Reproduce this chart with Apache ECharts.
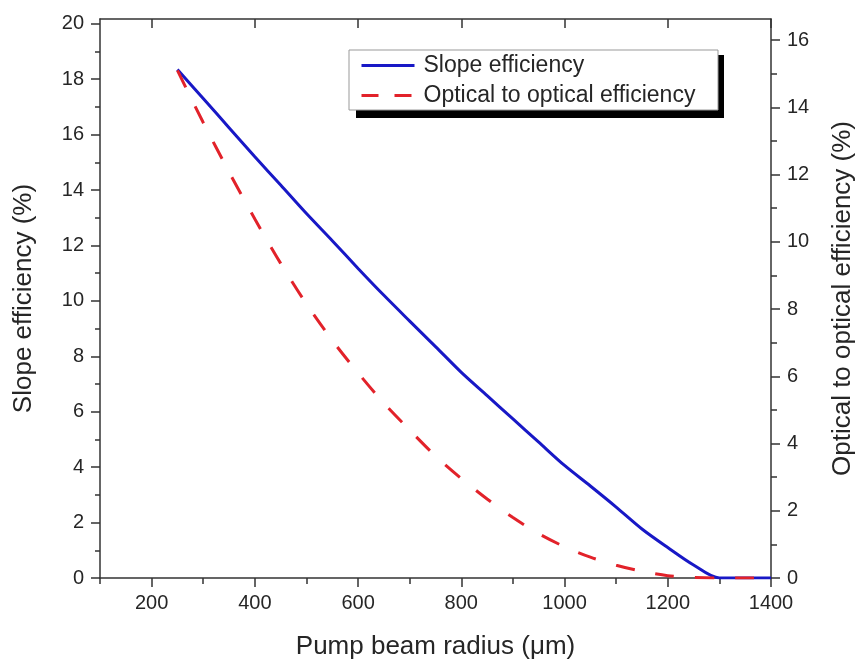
<!DOCTYPE html>
<html><head><meta charset="utf-8">
<script src="https://cdn.jsdelivr.net/npm/echarts@6/dist/echarts.min.js"></script>
<style>html,body{margin:0;padding:0;background:#fff}#c{width:864px;height:667px}</style>
</head><body><div id="c"></div>
<script>
// ---- data ----
const radius      = [250, 300, 350, 400, 450, 500, 550, 600, 650, 700, 750, 800, 850, 900, 950, 1000, 1050, 1100, 1150, 1200, 1250, 1300, 1350, 1400];
const slopeEff    = [18.35, 17.3, 16.25, 15.2, 14.18, 13.15, 12.17, 11.17, 10.2, 9.27, 8.35, 7.42, 6.58, 5.74, 4.9, 4.06, 3.32, 2.56, 1.77, 1.1, 0.47, 0, 0, 0];
const opticalEff  = [15.1, 13.55, 12.08, 10.68, 9.36, 8.15, 7.07, 6.1, 5.2, 4.4, 3.63, 2.96, 2.35, 1.8, 1.32, 0.93, 0.62, 0.38, 0.2, 0.07, 0.02, 0, 0, 0];
const seriesNames = ['Slope efficiency', 'Optical to optical efficiency'];
const xMajorTicks = [200, 400, 600, 800, 1000, 1200, 1400];
const xMinorTicks = [100, 300, 500, 700, 900, 1100, 1300];
const leftMajorTicks  = [0, 2, 4, 6, 8, 10, 12, 14, 16, 18, 20];
const leftMinorTicks  = [1, 3, 5, 7, 9, 11, 13, 15, 17, 19];
const rightMajorTicks = [0, 2, 4, 6, 8, 10, 12, 14, 16];
const rightMinorTicks = [1, 3, 5, 7, 9, 11, 13, 15];
const xTitle = 'Pump beam radius (\u03bcm)';
const leftTitle = 'Slope efficiency (%)';
const rightTitle = 'Optical to optical efficiency (%)';

// ---- chart ----
const FONT = '"Liberation Sans", Arial, sans-serif';
const TXT = '#262626';
const AX = '#333';
const X_MIN = 100, X_MAX = 1400, L_MAX = 20.17, R_MAX = 16.63;

function xAx(pos, ticks, len, inside, opts) {
  return Object.assign({
    type: 'value', position: pos, min: X_MIN, max: X_MAX,
    axisLine: { show: false, lineStyle: { color: AX, width: 1.5 } },
    axisTick: { show: true, inside: inside, length: len, customValues: ticks, lineStyle: { color: AX, width: 1.5 } },
    axisLabel: { show: false },
    splitLine: { show: false }
  }, opts || {});
}
function yAx(pos, max, ticks, len, opts) {
  return Object.assign({
    type: 'value', position: pos, min: 0, max: max,
    axisLine: { show: false, lineStyle: { color: AX, width: 1.5 } },
    axisTick: { show: true, inside: false, length: len, customValues: ticks, lineStyle: { color: AX, width: 1.5 } },
    axisLabel: { show: false },
    splitLine: { show: false }
  }, opts || {});
}
const lab = (vals) => ({ show: true, customValues: vals, margin: 15, fontSize: 20, color: TXT, fontFamily: FONT,
  formatter: (v) => String(Math.round(v)) });
const titleStyle = { fontSize: 26, color: TXT, fontFamily: FONT };

const chart = echarts.init(document.getElementById('c'), null, { renderer: 'canvas' });
chart.setOption({
  backgroundColor: '#fff',
  animation: false,
  grid: { left: 100, right: 83, top: 19, bottom: 89, containLabel: false },
  xAxis: [
    xAx('bottom', xMajorTicks, 9, false, {
      axisLine: { show: true, onZero: false, lineStyle: { color: AX, width: 1.5 } },
      axisLabel: lab(xMajorTicks),
      name: xTitle, nameLocation: 'middle', nameGap: 56,
      nameTextStyle: titleStyle
    }),
    xAx('bottom', xMinorTicks, 5, false),
    xAx('top', xMajorTicks, 9, true, { axisLine: { show: true, onZero: false, lineStyle: { color: AX, width: 1.5 } } }),
    xAx('top', xMinorTicks, 6, true)
  ],
  yAxis: [
    yAx('left', L_MAX, leftMajorTicks, 9, {
      axisLine: { show: true, onZero: false, lineStyle: { color: AX, width: 1.5 } },
      axisLabel: Object.assign(lab(leftMajorTicks), { margin: 16 }),
      name: leftTitle, nameLocation: 'middle', nameRotate: 90, nameGap: 63,
      nameTextStyle: titleStyle
    }),
    yAx('left', L_MAX, leftMinorTicks, 5),
    yAx('right', R_MAX, rightMajorTicks, 9, {
      axisLine: { show: true, onZero: false, lineStyle: { color: AX, width: 1.5 } },
      axisLabel: Object.assign(lab(rightMajorTicks), { margin: 16 }),
      name: rightTitle, nameLocation: 'middle', nameRotate: 90, nameGap: 59,
      nameTextStyle: titleStyle
    }),
    yAx('right', R_MAX, rightMinorTicks, 6)
  ],
  legend: {
    orient: 'vertical', left: 360, top: 54, padding: 0, itemGap: 7,
    itemWidth: 53, itemHeight: 14, z: 20,
    itemStyle: { color: 'rgba(0,0,0,0)', borderWidth: 0, opacity: 0 },
    data: [
      { name: seriesNames[0], lineStyle: { type: 'solid', width: 3 } },
      { name: seriesNames[1], lineStyle: { type: [17, 16], width: 3 } }
    ],
    textStyle: { fontSize: 23, lineHeight: 23, color: TXT, fontFamily: FONT, padding: [0, 0, 0, 4] }
  },
  graphic: [
    { type: 'rect', z: 10, shape: { x: 356, y: 55, width: 368, height: 63 }, style: { fill: '#000' } },
    { type: 'rect', z: 11, shape: { x: 349, y: 50, width: 369, height: 60 }, style: { fill: '#fff', stroke: '#999', lineWidth: 1 } }
  ],
  series: [
    {
      name: seriesNames[0], type: 'line', xAxisIndex: 0, yAxisIndex: 0,
      data: radius.map((x, i) => [x, slopeEff[i]]),
      showSymbol: false, symbol: 'none', color: '#1818c6',
      smooth: 0.3,
      lineStyle: { width: 3, color: '#1818c6' }, z: 3
    },
    {
      name: seriesNames[1], type: 'line', xAxisIndex: 0, yAxisIndex: 2,
      data: radius.map((x, i) => [x, opticalEff[i]]),
      showSymbol: false, symbol: 'none', color: '#e2222a',
      smooth: 0.3,
      lineStyle: { width: 3, color: '#e2222a', type: [19, 21] }, z: 3
    }
  ]
});
</script>
</body></html>
